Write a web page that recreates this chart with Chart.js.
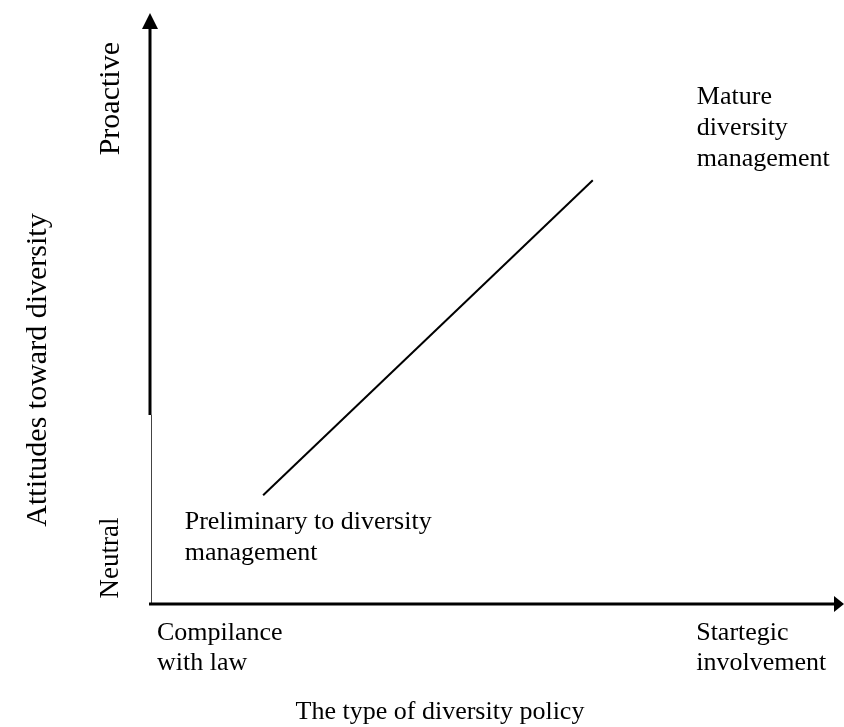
<!DOCTYPE html>
<html>
<head>
<meta charset="utf-8">
<script src="https://cdn.jsdelivr.net/npm/chart.js@4/dist/chart.umd.min.js"></script>
<style>
  body { margin: 0; background: #fff; }
  #wrap { width: 844px; height: 727px; }
</style>
</head>
<body>
<div id="wrap"><canvas id="chart" width="844" height="727"></canvas></div>
<script>
// Data (axes run 0..10 on both sides)
const lineX = [1.63, 6.38];
const lineY = [1.84, 7.17];
const xTickLabels = [["Compilance", "with law"], ["Startegic", "involvement"]];
const yTickLabels = ["Neutral", "Proactive"];
const stageLabels = [["Preliminary to diversity", "management"], ["Mature", "diversity", "management"]];
const xTitle = "The type of diversity policy";
const yTitle = "Attitudes toward diversity";

const SERIF = '"Liberation Serif", "Times New Roman", serif';

// axes, arrows and all text
const diagramPlugin = {
  id: "diagram",
  afterDraw(chart) {
    const ctx = chart.ctx;
    const xs = chart.scales.x;
    const ys = chart.scales.y;
    const x0 = xs.getPixelForValue(0);
    const xEnd = xs.getPixelForValue(10);
    const y0 = ys.getPixelForValue(0);
    const yTop = ys.getPixelForValue(10);
    const yBreak = ys.getPixelForValue(3.2);

    ctx.save();
    ctx.fillStyle = "#000";
    ctx.strokeStyle = "#000";

    // y axis: thick upper part, thin lower part
    ctx.lineWidth = 3;
    ctx.beginPath();
    ctx.moveTo(x0, yTop + 14);
    ctx.lineTo(x0, yBreak);
    ctx.stroke();
    ctx.lineWidth = 1;
    ctx.strokeStyle = "#444";
    ctx.beginPath();
    ctx.moveTo(x0 + 1.5, yBreak);
    ctx.lineTo(x0 + 1.5, y0);
    ctx.stroke();

    // arrow up
    ctx.beginPath();
    ctx.moveTo(x0, yTop);
    ctx.lineTo(x0 - 8, yTop + 16);
    ctx.lineTo(x0 + 8, yTop + 16);
    ctx.closePath();
    ctx.fill();

    // x axis
    ctx.strokeStyle = "#000";
    ctx.lineWidth = 3;
    ctx.beginPath();
    ctx.moveTo(x0 - 1, y0);
    ctx.lineTo(xEnd - 9, y0);
    ctx.stroke();
    ctx.beginPath();
    ctx.moveTo(xEnd, y0);
    ctx.lineTo(xEnd - 10, y0 - 8);
    ctx.lineTo(xEnd - 10, y0 + 8);
    ctx.closePath();
    ctx.fill();

    ctx.font = "26px " + SERIF;
    ctx.textBaseline = "middle";
    ctx.textAlign = "left";

    function lines(arr, x, y, gap) {
      arr.forEach((t, i) => ctx.fillText(t, x, y + i * gap));
    }

    // x tick labels
    lines(xTickLabels[0], x0 + 7, y0 + 29, 30);
    lines(xTickLabels[1], xs.getPixelForValue(7.87), y0 + 29, 30);

    // stage labels
    lines(stageLabels[0], xs.getPixelForValue(0.5), ys.getPixelForValue(1.39), 31);
    lines(stageLabels[1], xs.getPixelForValue(7.88), ys.getPixelForValue(8.58), 31);

    // x title
    ctx.textAlign = "center";
    ctx.fillText(xTitle, 440, 712);

    // rotated y texts
    function vtext(t, x, y, size) {
      ctx.save();
      ctx.font = size + "px " + SERIF;
      ctx.translate(x, y);
      ctx.rotate(-Math.PI / 2);
      ctx.fillText(t, 0, 0);
      ctx.restore();
    }
    vtext(yTickLabels[0], 111, ys.getPixelForValue(0.78), 27);
    vtext(yTickLabels[1], 111, ys.getPixelForValue(8.55), 30);
    vtext(yTitle, 38, 370, 30);

    ctx.restore();
  }
};

new Chart(document.getElementById("chart"), {
  type: "scatter",
  data: {
    datasets: [
      {
        data: lineX.map((x, i) => ({ x: x, y: lineY[i] })),
        showLine: true,
        borderColor: "#000",
        borderWidth: 2,
        pointRadius: 0,
        fill: false,
      },
    ],
  },
  options: {
    responsive: false,
    animation: false,
    devicePixelRatio: 1,
    layout: { padding: { left: 150, right: 0, top: 13, bottom: 123 } },
    plugins: { legend: { display: false }, tooltip: { enabled: false } },
    scales: {
      x: { type: "linear", min: 0, max: 10, display: false },
      y: { type: "linear", min: 0, max: 10, display: false },
    },
  },
  plugins: [diagramPlugin],
});
</script>
</body>
</html>
